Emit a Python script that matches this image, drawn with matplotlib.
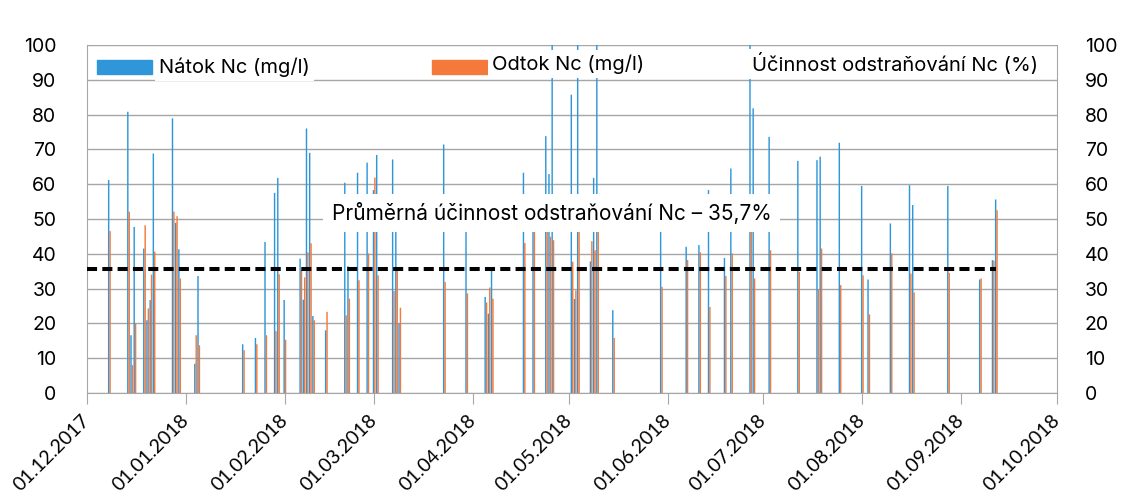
import matplotlib
matplotlib.use('Agg')
import matplotlib.pyplot as plt
import matplotlib.dates as mdates
from matplotlib.patches import Rectangle
import pandas as pd

# data (dates of samples, inflow / outflow Nc in mg/l)
dates = ['08.12.2017', '14.12.2017', '15.12.2017', '16.12.2017', '19.12.2017', '20.12.2017',
         '21.12.2017', '22.12.2017', '28.12.2017', '29.12.2017', '30.12.2017',
         '04.01.2018', '05.01.2018', '19.01.2018', '23.01.2018', '26.01.2018', '29.01.2018',
         '30.01.2018', '01.02.2018', '06.02.2018', '07.02.2018', '08.02.2018', '09.02.2018',
         '10.02.2018', '14.02.2018', '20.02.2018', '21.02.2018', '24.02.2018', '27.02.2018',
         '01.03.2018', '02.03.2018', '07.03.2018', '08.03.2018', '09.03.2018', '23.03.2018',
         '30.03.2018', '05.04.2018', '06.04.2018', '07.04.2018', '17.04.2018', '20.04.2018',
         '24.04.2018', '25.04.2018', '26.04.2018', '02.05.2018', '03.05.2018', '04.05.2018',
         '08.05.2018', '09.05.2018', '10.05.2018', '15.05.2018', '30.05.2018', '07.06.2018',
         '11.06.2018', '14.06.2018', '19.06.2018', '21.06.2018', '27.06.2018', '28.06.2018',
         '03.07.2018', '12.07.2018', '18.07.2018', '19.07.2018', '25.07.2018', '01.08.2018',
         '03.08.2018', '10.08.2018', '16.08.2018', '17.08.2018', '28.08.2018', '07.09.2018',
         '11.09.2018', '12.09.2018']
natok = [61.2, 80.8, 16.6, 47.7, 41.5, 20.9,
         26.7, 68.8, 78.9, 48.9, 41.3,
         8.4, 33.6, 14.0, 15.8, 43.4, 57.5,
         61.8, 26.7, 38.6, 26.8, 76.0, 69.0,
         22.1, 18.0, 60.4, 36.4, 63.3, 66.2,
         58.3, 68.4, 67.1, 46.5, 20.0, 71.4,
         47.3, 27.6, 22.8, 35.3, 63.3, 49.0,
         73.8, 62.9, 105.0, 85.7, 27.0, 105.0,
         37.8, 61.8, 105.0, 23.8, 47.0, 42.0,
         42.5, 58.3, 38.8, 64.5, 105.0, 81.8,
         73.6, 66.7, 66.9, 67.9, 71.9, 59.5,
         32.6, 48.7, 59.7, 54.0, 59.5, 32.6,
         38.2, 55.6]
odtok = [46.5, 52.1, 8.0, 20.1, 48.2, 24.3,
         34.0, 40.6, 52.1, 50.8, 32.9,
         16.6, 13.7, 12.3, 14.0, 16.6, 17.8,
         34.1, 15.3, 35.3, 33.2, 40.4, 43.0,
         20.9, 23.3, 22.3, 27.1, 32.4, 40.1,
         61.9, 33.8, 29.3, 35.5, 24.5, 31.9,
         28.6, 26.0, 30.3, 27.1, 43.1, 47.0,
         46.8, 44.9, 43.9, 37.7, 29.5, 47.0,
         43.6, 41.0, 47.0, 15.8, 30.5, 38.2,
         40.4, 24.7, 33.6, 40.1, 47.0, 32.9,
         41.0, 34.8, 29.7, 41.5, 31.0, 33.8,
         22.6, 40.1, 34.3, 28.9, 34.5, 32.9,
         38.0, 52.5]
prumer = 35.7
prumer_od = '01.12.2017'
prumer_do = '12.09.2018'
month_ticks = ['01.12.2017', '01.01.2018', '01.02.2018', '01.03.2018', '01.04.2018',
               '01.05.2018', '01.06.2018', '01.07.2018', '01.08.2018', '01.09.2018',
               '01.10.2018']

blue = '#2f97d9'
orange = '#f5793a'
grid_c = '#a6a6a6'

x = mdates.date2num(pd.to_datetime(dates, format='%d.%m.%Y'))
ticks = mdates.date2num(pd.to_datetime(month_ticks, format='%d.%m.%Y'))

fig = plt.figure(figsize=(11.26, 4.94), dpi=100)
ax = fig.add_axes([0.0773, 0.2045, 0.8614, 0.7045])

ax.bar(x - 0.22, natok, width=0.45, color=blue, linewidth=0, snap=False, zorder=3)
ax.bar(x + 0.22, odtok, width=0.45, color=orange, linewidth=0, snap=False, zorder=3)

# average efficiency line
d0, d1 = mdates.date2num(pd.to_datetime([prumer_od, prumer_do], format='%d.%m.%Y'))
ax.hlines(prumer, d0, d1, colors='black', linestyles=(0, (2.5, 1.3)), linewidth=2.9, zorder=5)

ax.set_xlim(ticks[0], ticks[-1])
ax.set_ylim(0, 100)
ax.set_yticks(range(0, 101, 10))
ax.grid(axis='y', color=grid_c, linewidth=1, zorder=0)
ax.set_axisbelow(True)

ax.set_xticks(ticks)
ax.set_xticklabels(month_ticks, rotation=45, ha='right', va='center', rotation_mode='anchor',
                   fontsize=14, family='Lato')
ax.tick_params(axis='x', length=8, color=grid_c, pad=10)
ax.tick_params(axis='y', length=0, labelsize=14, pad=22)
for lab in ax.get_yticklabels():
    lab.set_family('Inter')

ax.spines['top'].set_visible(False)
for s in ['left', 'right', 'bottom']:
    ax.spines[s].set_color(grid_c)

ax2 = ax.twinx()
ax2.set_ylim(0, 100)
ax2.set_yticks(range(0, 101, 10))
ax2.tick_params(axis='y', length=0, labelsize=14, pad=20)
for lab in ax2.get_yticklabels():
    lab.set_family('Inter')
for s in ax2.spines.values():
    s.set_visible(False)

# legend row drawn by hand (entries are spread across the top)
ax.add_patch(Rectangle((0.0103, 0.917), 0.057, 0.04, transform=ax.transAxes,
                       color=blue, zorder=6))
ax.text(0.0745, 0.937, 'Nátok Nc (mg/l)', transform=ax.transAxes, va='center', ha='left',
        fontsize=14.5, family='Inter', zorder=6,
        bbox=dict(facecolor='white', edgecolor='none', pad=3))
ax.add_patch(Rectangle((0.356, 0.917), 0.056, 0.04, transform=ax.transAxes,
                       color=orange, zorder=6))
ax.text(0.418, 0.945, 'Odtok Nc (mg/l)', transform=ax.transAxes, va='center', ha='left',
        fontsize=14.5, family='Inter', zorder=6,
        bbox=dict(facecolor='white', edgecolor='none', pad=3))
ax.text(0.686, 0.945, 'Účinnost odstraňování Nc (%)', transform=ax.transAxes,
        va='center', ha='left', fontsize=14.5, family='Inter', zorder=6,
        bbox=dict(facecolor='white', edgecolor='none', pad=3))

ax.text(0.479, 0.517, 'Průměrná účinnost odstraňování Nc – 35,7%', transform=ax.transAxes,
        va='center', ha='center', fontsize=15, family='Inter', zorder=6,
        bbox=dict(facecolor='white', edgecolor='none', pad=6))

fig.savefig('out.png', dpi=100)
